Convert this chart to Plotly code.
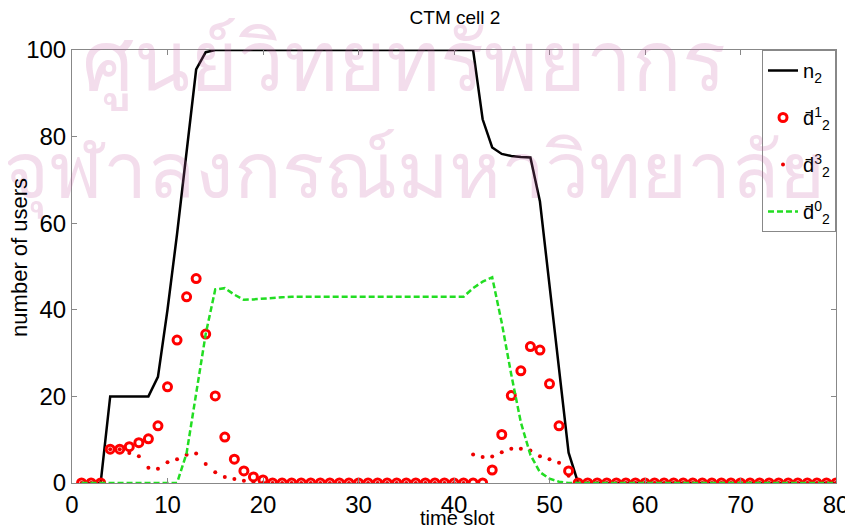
import plotly.graph_objects as go

t = list(range(1, 81))

n2 = [0, 0, 0, 20, 20, 20, 20, 20, 24.5, 40, 57.5, 76, 95.5, 99.5] + [100] * 28 + \
     [84, 77.5, 76, 75.5, 75.3, 75.2, 65, 46, 26, 7] + [0] * 28

d1 = [0, 0, 0, 7.8, 7.8, 8.4, 9.3, 10.2, 13.2, 22.2, 33, 43, 47.2, 34.4, 20.1, 10.6, 5.5, 2.8, 1.4, 0.7] + \
     [0] * 23 + [3.0, 11.2, 20.2, 25.9, 31.5, 30.7, 22.9, 13.2, 2.8] + [0] * 28

d3 = [0, 0, 0, 7.8, 7.8, 6.9, 6.2, 3.5, 3.3, 4.8, 5.5, 6.5, 6.8, 4.4, 2.5, 1.4, 0.9, 0.5, 0.3, 0.1] + \
     [0] * 21 + [6.6, 6.0, 6.1, 7.1, 7.9, 7.9, 7.5, 6.2, 5.5, 4.7, 1.7] + [0] * 28

d0 = [0] * 11 + [6.9, 20.6, 34.4, 44.7, 45, 43.5, 42.3, 42.4, 42.6, 42.8, 42.9] + [43] * 19 + \
     [45, 46.5, 47.5, 37, 25, 14, 6.5, 2.5, 1.0, 0.3] + [0] * 29

x_ticks = [0, 10, 20, 30, 40, 50, 60, 70, 80]
y_ticks = [0, 20, 40, 60, 80, 100]

names = ["n<sub>2</sub>", "d\u0304<sup>1</sup><sub>2</sub>", "d\u0304<sup>3</sup><sub>2</sub>",
         "d\u0304<sup>0</sup><sub>2</sub>"]

fig = go.Figure()
fig.add_trace(go.Scatter(x=t, y=n2, mode="lines", name=names[0], legendgroup="a",
                         line=dict(color="black", width=2.5)))
fig.add_trace(go.Scatter(x=t, y=d1, mode="markers", name=names[1], legendgroup="b",
                         marker=dict(symbol="circle-open", size=8, color="#ff0000",
                                     line=dict(width=3, color="#ff0000"))))
fig.add_trace(go.Scatter(x=t, y=d3, mode="markers", name=names[2], legendgroup="c",
                         marker=dict(symbol="circle", size=4, color="#ee0000")))
fig.add_trace(go.Scatter(x=t, y=d0, mode="lines", name=names[3], legendgroup="d",
                         line=dict(color="#22dd22", width=2.5, dash="6px,3px")))

wm_color = "rgba(200,100,170,0.22)"
wm_font = "Noto Sans, DejaVu Sans, sans-serif"
fig.add_annotation(text="ศูนย์วิทยทรัพยากร", xref="paper", yref="paper", x=0.434, y=0.982,
                   xanchor="center", yanchor="middle", showarrow=False,
                   font=dict(size=82, color=wm_color, family=wm_font))
fig.add_annotation(text="จุฬาลงกรณ์มหาวิทยาลัย", xref="paper", yref="paper", x=0.448, y=0.728,
                   xanchor="center", yanchor="middle", showarrow=False,
                   font=dict(size=79, color=wm_color, family=wm_font))

narrow = "Liberation Sans Narrow, Arial Narrow, Liberation Sans, Arial, sans-serif"
axis_common = dict(showline=True, linecolor="#888888", linewidth=1, mirror="ticks",
                   ticks="inside", ticklen=5, tickcolor="#888888", showgrid=False,
                   zeroline=False, tickfont=dict(family=narrow, size=24, color="black"))

fig.add_annotation(text="time slot", xref="paper", yref="paper", x=0.504, y=-0.081,
                   xanchor="center", yanchor="middle", showarrow=False,
                   font=dict(family=narrow, size=20, color="black"))
fig.add_annotation(text="number of users", xref="paper", yref="paper", x=-0.068, y=0.52,
                   xanchor="center", yanchor="middle", showarrow=False, textangle=-90,
                   font=dict(family="Liberation Sans, Arial, sans-serif", size=22, color="black"))

fig.update_layout(
    width=853, height=530,
    margin=dict(l=64, r=25, t=42, b=55),
    plot_bgcolor="white", paper_bgcolor="white",
    title=dict(text="CTM cell 2", x=0.524, xanchor="center", y=0.983, yanchor="middle",
               font=dict(family="Liberation Sans, Arial, sans-serif", size=19, color="black")),
    xaxis=dict(range=[0, 80], tickvals=x_ticks, ticktext=[str(v) for v in x_ticks],
               automargin=False, **axis_common),
    yaxis=dict(range=[0, 100], tickvals=y_ticks, ticktext=[str(v) for v in y_ticks],
               automargin=False, **axis_common),
    legend=dict(x=1, y=1, xanchor="right", yanchor="top", bgcolor="white",
                bordercolor="#888888", borderwidth=1, tracegroupgap=18,
                font=dict(family="Liberation Sans, Arial, sans-serif", size=20, color="black"),
                itemwidth=30),
    showlegend=True,
)

fig.write_html("out.html")
